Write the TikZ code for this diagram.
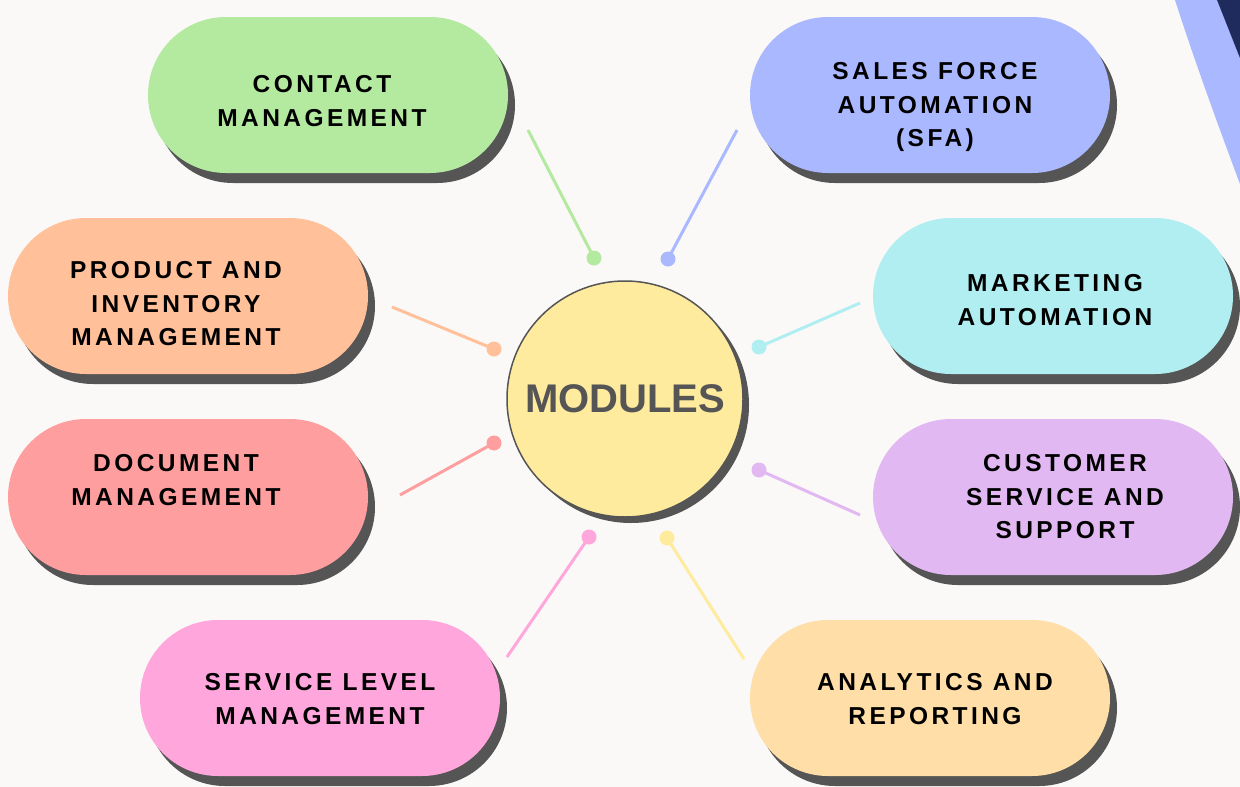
\documentclass[tikz,border=0pt]{standalone}
\usepackage{fontspec}
\usetikzlibrary{shadows}
\newfontfamily\pillfont[LetterSpace=14]{Liberation Sans}
\newfontfamily\modfont{Liberation Sans}
\definecolor{bgc}{HTML}{FAF9F7}
\definecolor{shadowc}{HTML}{555555}
\definecolor{cgreen}{HTML}{B4E9A0}
\definecolor{cblue}{HTML}{AAB8FF}
\definecolor{corange}{HTML}{FFC09A}
\definecolor{ccyan}{HTML}{B0EEF2}
\definecolor{cred}{HTML}{FF9E9E}
\definecolor{cpurple}{HTML}{E2B8F2}
\definecolor{cpink}{HTML}{FFA6DC}
\definecolor{cpeach}{HTML}{FFDEA8}
\definecolor{cyellow}{HTML}{FFEB9E}
\definecolor{cnavy}{HTML}{1F2B5C}
\definecolor{ctext}{HTML}{555555}
\tikzset{
  pill/.style={rectangle, rounded corners=78pt, minimum width=360pt, minimum height=156pt,
    inner sep=0pt, fill=#1,
    drop shadow={shadow xshift=7pt, shadow yshift=-10pt, opacity=1, fill=shadowc}},
  pilltext/.style={align=center, text=black, inner sep=0pt,
    font=\fontsize{24.5}{33.5}\selectfont\pillfont\bfseries},
  conn/.style={draw=#1, line width=3pt},
  dot/.style={circle, fill=#1, minimum size=15pt, inner sep=0pt},
}
\begin{document}
\begin{tikzpicture}[x=1pt,y=-1pt]
\useasboundingbox (0,0) rectangle (1240,787);
\fill[bgc] (0,0) rectangle (1240,787);
% top-right decoration
\fill[cblue] (1175,0) .. controls (1196,65) and (1218,125) .. (1240,184) -- (1240,0) -- cycle;
\fill[cnavy] (1217,0) .. controls (1225,20) and (1232,38) .. (1240,58) -- (1240,0) -- cycle;

% pills
\node[pill=cgreen]  (contact)   at (328,95)  {};
\node[pill=cblue]   (sfa)       at (930,95)  {};
\node[pill=corange] (product)   at (188,296) {};
\node[pill=ccyan]   (marketing) at (1053,296) {};
\node[pill=cred]    (document)  at (188,497) {};
\node[pill=cpurple] (customer)  at (1053,497) {};
\node[pill=cpink]   (service)   at (320,698) {};
\node[pill=cpeach]  (analytics) at (930,698) {};

\node[pilltext] (tcontact)   at (322,101) {CONTACT\\MANAGEMENT};
\node[pilltext] (tsfa)       at (935,107) {SALES FORCE\\AUTOMATION\\(SFA)};
\node[pilltext] (tproduct)   at (176,304) {PRODUCT AND\\INVENTORY\\MANAGEMENT};
\node[pilltext] (tmarketing) at (1055,300) {MARKETING\\AUTOMATION};
\node[pilltext] (tdocument)  at (176,480) {DOCUMENT\\MANAGEMENT};
\node[pilltext] (tcustomer)  at (1065,497) {CUSTOMER\\SERVICE AND\\SUPPORT};
\node[pilltext] (tservice)   at (320,699) {SERVICE LEVEL\\MANAGEMENT};
\node[pilltext] (tanalytics) at (935,699) {ANALYTICS AND\\REPORTING};

% center circle
\node[circle, minimum size=236pt, inner sep=0pt, fill=cyellow, draw=ctext, line width=1.5pt,
  drop shadow={shadow xshift=6pt, shadow yshift=-6pt, opacity=1, fill=shadowc},
  font=\fontsize{40}{40}\selectfont\modfont\bfseries, text=ctext] (modules) at (625,399) {MODULES};

% connector ends
\coordinate (sgreen)  at (528,130);
\coordinate (sblue)   at (737,130);
\coordinate (sorange) at (392,307);
\coordinate (scyan)   at (860,303);
\coordinate (sred)    at (400,495);
\coordinate (spurple) at (860,515);
\coordinate (spink)   at (507,657);
\coordinate (speach)  at (744,659);

\node[dot=cgreen]  (dgreen)  at (594,258) {};
\node[dot=cblue]   (dblue)   at (668,259) {};
\node[dot=corange] (dorange) at (494,349) {};
\node[dot=ccyan]   (dcyan)   at (759,347) {};
\node[dot=cred]    (dred)    at (494,443) {};
\node[dot=cpurple] (dpurple) at (759,470) {};
\node[dot=cpink]   (dpink)   at (589,537) {};
\node[dot=cyellow] (dpeach)  at (667,538) {};

\draw[conn=cgreen]  (sgreen)  -- (dgreen.center);
\draw[conn=cblue]   (sblue)   -- (dblue.center);
\draw[conn=corange] (sorange) -- (dorange.center);
\draw[conn=ccyan]   (scyan)   -- (dcyan.center);
\draw[conn=cred]    (sred)    -- (dred.center);
\draw[conn=cpurple] (spurple) -- (dpurple.center);
\draw[conn=cpink]   (spink)   -- (dpink.center);
\draw[conn=cyellow] (speach)  -- (dpeach.center);
\end{tikzpicture}
\end{document}
